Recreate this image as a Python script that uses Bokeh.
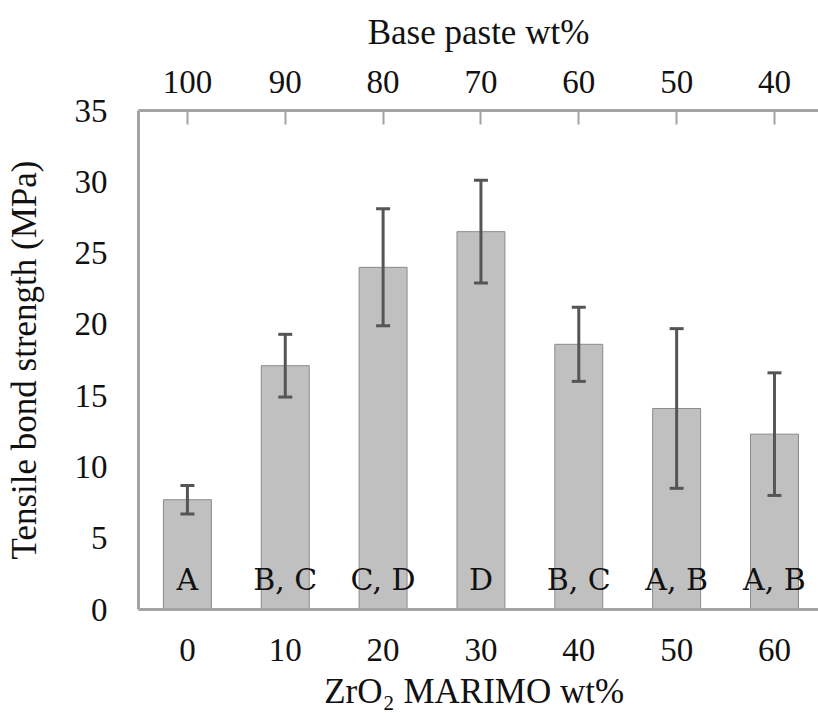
from bokeh.plotting import figure
from bokeh.models import (ColumnDataSource, Range1d, LinearAxis, FixedTicker,
                          Whisker, TeeHead)
from bokeh.core.properties import value
from bokeh.embed import file_html
from bokeh.resources import INLINE

# ---- data ----
zro2_wt = [0, 10, 20, 30, 40, 50, 60]
base_paste_wt = ["100", "90", "80", "70", "60", "50", "40"]
strength = [7.7, 17.1, 24.0, 26.5, 18.6, 14.1, 12.3]
sd = [1.0, 2.2, 4.1, 3.6, 2.6, 5.6, 4.3]
groups = ["A", "B, C", "C, D", "D", "B, C", "A, B", "A, B"]
y_ticks = [0, 5, 10, 15, 20, 25, 30, 35]

FONT = "'Liberation Serif', 'Times New Roman', serif"
LFONT = "'DejaVu Serif', serif"
AXIS_COL = "#A3A3A3"
TXT = "#111111"

src = ColumnDataSource(dict(
    x=zro2_wt, top=strength,
    upper=[s + e for s, e in zip(strength, sd)],
    lower=[s - e for s, e in zip(strength, sd)],
    grp=groups, y0=[0] * len(groups),
))

p = figure(width=818, height=713, output_backend="svg", toolbar_location=None,
           x_range=Range1d(-5, 64.5), y_range=Range1d(0, 35),
           x_axis_location=None, y_axis_location=None,
           min_border_left=138, min_border_right=0, min_border_top=110,
           min_border_bottom=102)
p.outline_line_color = None
p.xgrid.visible = False
p.ygrid.visible = False
p.background_fill_color = "white"
p.border_fill_color = "white"

p.vbar(x="x", top="top", width=4.9, source=src, fill_color="#C0C0C0",
       line_color="#8A8A8A", line_width=1)

w = Whisker(base="x", upper="upper", lower="lower", source=src,
            line_color="#555555", line_width=3, level="overlay",
            upper_head=TeeHead(size=14, line_color="#555555", line_width=3),
            lower_head=TeeHead(size=14, line_color="#555555", line_width=3))
p.add_layout(w)

p.text(x="x", y="y0", text="grp", source=src, text_align="center",
       text_baseline="alphabetic", y_offset=-30,
       text_font=value(LFONT), text_font_size="30px",
       text_color=TXT)

def style(ax, label_size="33px"):
    ax.axis_line_color = AXIS_COL
    ax.axis_line_width = 3
    ax.major_label_text_font = FONT
    ax.major_label_text_font_size = label_size
    ax.major_label_text_color = TXT
    ax.axis_label_text_font = FONT
    ax.axis_label_text_font_size = "35px"
    ax.axis_label_text_font_style = "normal"
    ax.axis_label_text_color = TXT
    ax.minor_tick_line_color = None

# left axis
ya = LinearAxis(ticker=FixedTicker(ticks=y_ticks),
                axis_label="Tensile bond strength (MPa)")
style(ya)
ya.major_tick_line_color = None
ya.major_label_standoff = 25
ya.axis_label_standoff = 28
p.add_layout(ya, "left")

# bottom axis
xa = LinearAxis(ticker=FixedTicker(ticks=zro2_wt), axis_label="ZrO₂ MARIMO  wt%")
style(xa)
xa.major_tick_line_color = None
xa.major_label_standoff = 23
xa.axis_label_standoff = 8
p.add_layout(xa, "below")

# top axis
ta = LinearAxis(ticker=FixedTicker(ticks=zro2_wt), axis_label="Base paste wt%",
                major_label_overrides={z: b for z, b in zip(zro2_wt, base_paste_wt)})
style(ta)
ta.major_tick_line_color = AXIS_COL
ta.major_tick_line_width = 2
ta.major_tick_in = 14
ta.major_tick_out = 0
ta.major_label_standoff = 18
ta.axis_label_standoff = 16
p.add_layout(ta, "above")

open("out.html", "w").write(file_html(p, INLINE))
